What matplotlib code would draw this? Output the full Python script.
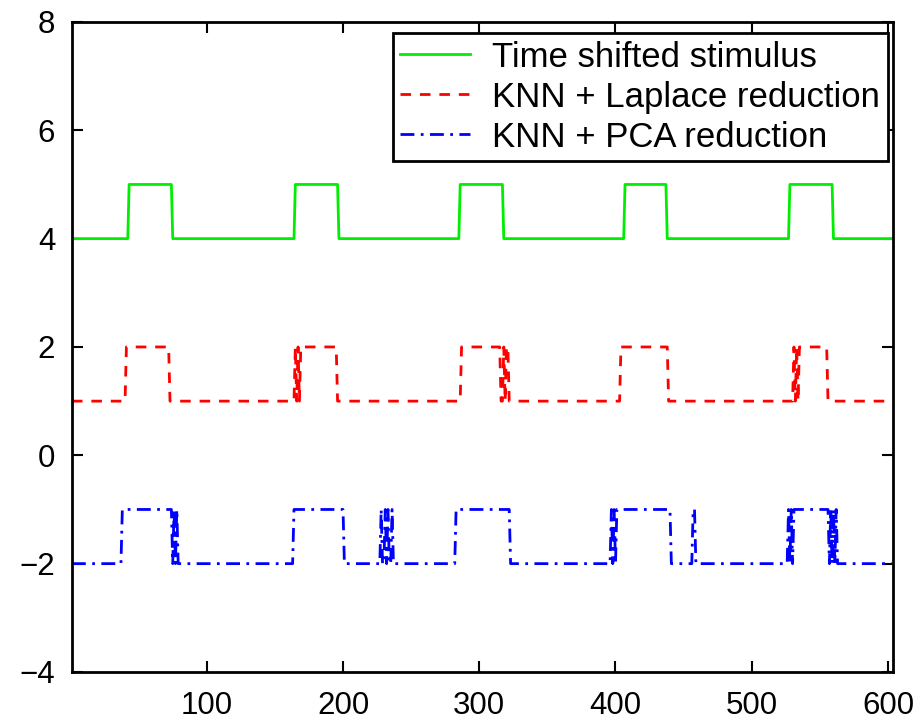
import matplotlib
matplotlib.use("Agg")
import matplotlib.pyplot as plt
import numpy as np

plt.rcParams['font.family'] = ['Liberation Sans', 'DejaVu Sans']

# sample index of the recording
n_samples = 603

# (start, end) sample ranges where each trace is "on"
stimulus_on = [(43, 75), (165, 197), (286, 318), (407, 438), (528, 560)]
laplace_on = [(41, 73),
              (165, 166), (167, 168), (169, 196),
              (287, 316), (318, 319), (320, 322),
              (404, 439),
              (531, 532), (533, 534), (535, 556)]
pca_on = [(38, 75), (76, 77), (78, 79),
          (164, 201),
          (228, 229), (231, 232), (233, 234), (236, 237),
          (283, 323),
          (397, 398), (399, 400), (401, 441),
          (457, 459),
          (527, 528), (529, 530), (531, 557), (558, 559), (560, 561), (562, 563)]

stimulus_base = 4
laplace_base = 1
pca_base = -2

labels = ['Time shifted stimulus', 'KNN + Laplace reduction', 'KNN + PCA reduction']


def square_wave(base, on_ranges):
    x = np.arange(1, n_samples + 1)
    y = np.full(x.shape, float(base))
    for s, e in on_ranges:
        y[(x >= s) & (x < e)] = base + 1
    return x, y


fig = plt.figure(figsize=(9.22, 7.2), dpi=100)
ax = fig.add_axes([0.078, 0.0667, 0.891, 0.9028])

x1, y1 = square_wave(stimulus_base, stimulus_on)
x2, y2 = square_wave(laplace_base, laplace_on)
x3, y3 = square_wave(pca_base, pca_on)

ax.plot(x1, y1, color='#00ee00', lw=2, label=labels[0])
ax.plot(x2, y2, color='#ff0000', lw=2, ls=(0, (3.8, 3.2)), label=labels[1])
ax.plot(x3, y3, color='#0000ff', lw=2, ls=(0, (5, 2.3, 1, 2.3)), label=labels[2])

ax.set_xlim(1, 604)
ax.set_ylim(-4, 8)
ax.set_xticks([100, 200, 300, 400, 500, 600])
ax.set_yticks([-4, -2, 0, 2, 4, 6, 8])

for sp in ax.spines.values():
    sp.set_linewidth(2)
ax.tick_params(axis='both', direction='in', top=True, right=True,
               length=8, width=1.5, labelsize=22.5)
ax.tick_params(axis='x', pad=14)
ax.tick_params(axis='y', pad=12)

leg = ax.legend(loc='upper right', bbox_to_anchor=(0.993, 0.983), fontsize=25,
                frameon=True, fancybox=False, edgecolor='black', framealpha=1,
                borderaxespad=0, handlelength=2.0, handletextpad=0.65,
                labelspacing=0.2, borderpad=0.22)
leg.get_frame().set_linewidth(2)

fig.savefig('out.png', dpi=100)
